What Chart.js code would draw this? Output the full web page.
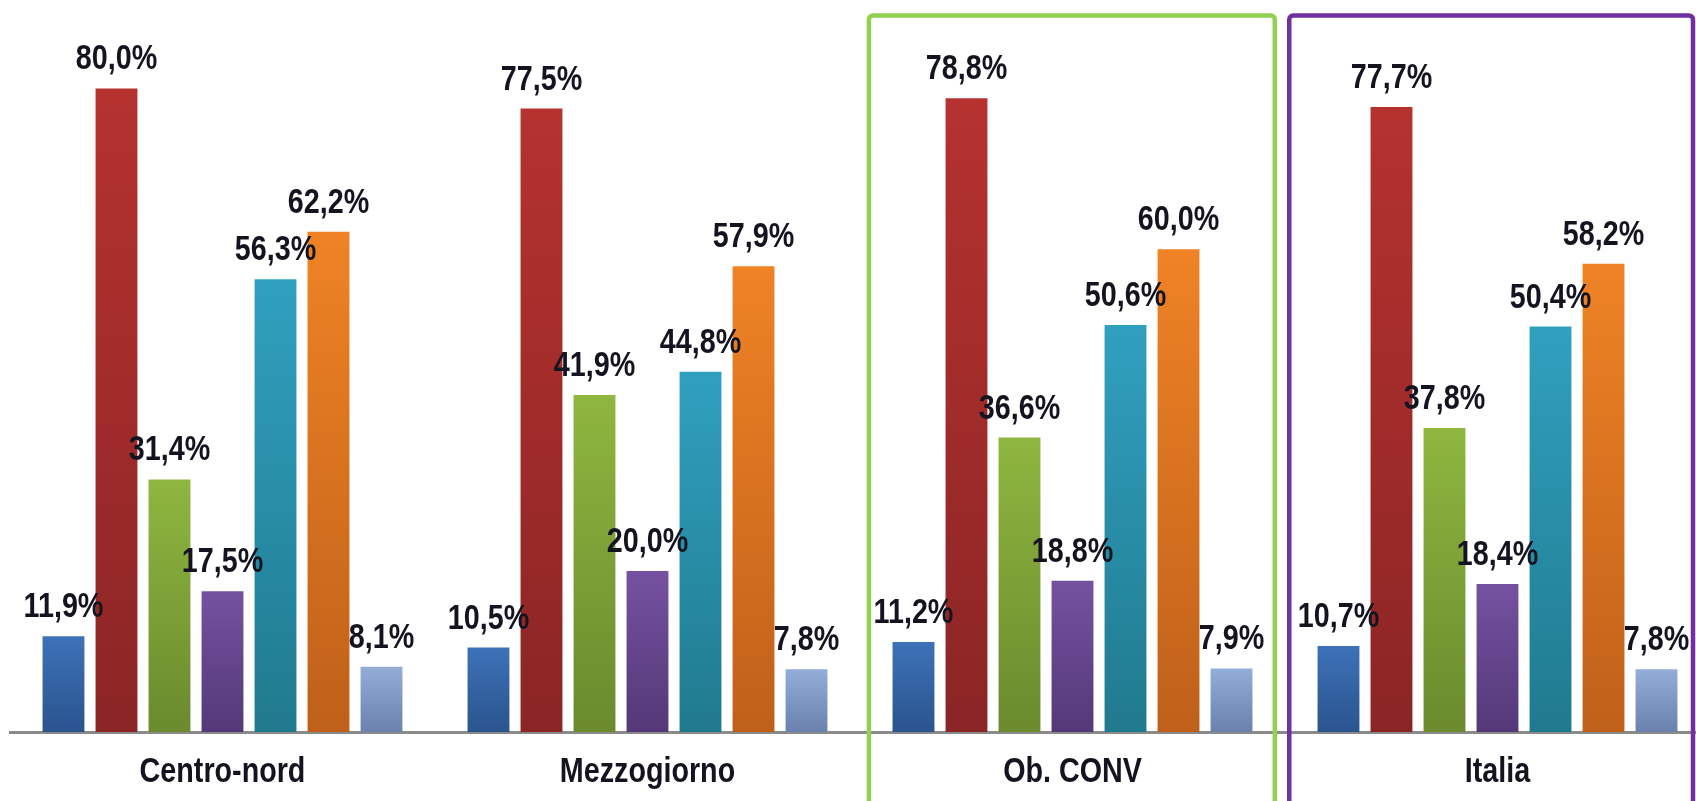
<!DOCTYPE html>
<html>
<head>
<meta charset="utf-8">
<script src="https://cdn.jsdelivr.net/npm/chart.js@4.4.1/dist/chart.umd.min.js"></script>
<style>
  html, body { margin: 0; padding: 0; background: #fff; overflow: hidden; }
  #wrap { position: relative; width: 1720px; height: 801px; }
</style>
</head>
<body>
<div id="wrap"><canvas id="chart"></canvas></div>
<script>
// categories and series values (percent)
var categories = ["Centro-nord", "Mezzogiorno", "Ob. CONV", "Italia"];
var serie1 = [11.9, 10.5, 11.2, 10.7];
var serie2 = [80.0, 77.5, 78.8, 77.7];
var serie3 = [31.4, 41.9, 36.6, 37.8];
var serie4 = [17.5, 20.0, 18.8, 18.4];
var serie5 = [56.3, 44.8, 50.6, 50.4];
var serie6 = [62.2, 57.9, 60.0, 58.2];
var serie7 = [8.1, 7.8, 7.9, 7.8];

// top / bottom colour of each bar gradient
var colors = [
    ["#3d72b8", "#2a548e"],
    ["#b5322f", "#8b2525"],
    ["#8fb63f", "#6a8a2d"],
    ["#7552a1", "#543878"],
    ["#30a0bf", "#207a8e"],
    ["#ef8325", "#bf601a"],
    ["#93add9", "#6a82ad"]
];

// no Arial Narrow installed: squeeze Liberation Sans horizontally instead
var FONT = "bold 35px 'Liberation Sans', Arial, sans-serif";
var SQUEEZE = 0.82;

function narrowText(ctx, txt, x, y) {
    ctx.save();
    ctx.translate(x, y);
    ctx.scale(SQUEEZE, 1);
    ctx.fillText(txt, 0, 0);
    ctx.restore();
}

function barGradient(i) {
    return function (context) {
        var chart = context.chart;
        var area = chart.chartArea;
        if (!area || context.raw === undefined) return colors[i][0];
        var yScale = chart.scales.y;
        var top = yScale.getPixelForValue(context.raw);
        var bottom = yScale.getPixelForValue(0);
        if (!isFinite(top) || top === bottom) return colors[i][0];
        var g = chart.ctx.createLinearGradient(0, top, 0, bottom);
        g.addColorStop(0, colors[i][0]);
        g.addColorStop(1, colors[i][1]);
        return g;
    };
}

var textPlugin = {
    id: "textPlugin",
    afterDatasetsDraw: function (chart) {
        var ctx = chart.ctx;
        ctx.save();
        ctx.font = FONT;
        ctx.fillStyle = "#141420";
        ctx.textAlign = "center";
        ctx.textBaseline = "alphabetic";
        // value labels over each bar
        chart.data.datasets.forEach(function (ds, di) {
            chart.getDatasetMeta(di).data.forEach(function (bar, j) {
                var txt = ds.data[j].toFixed(1).replace(".", ",") + "%";
                narrowText(ctx, txt, bar.x, bar.y - 19);
            });
        });
        // category labels under the axis
        var x = chart.scales.x;
        categories.forEach(function (c, i) {
            narrowText(ctx, c, x.getPixelForValue(i), chart.chartArea.bottom + 50);
        });
        ctx.restore();
    }
};

// coloured frames around "Ob. CONV" and "Italia"
var frames = [
    { index: 2, color: "#92d050", left: 0.479, right: 0.476 },
    { index: 3, color: "#7030a0", left: 0.490, right: 0.460 }
];

var framePlugin = {
    id: "framePlugin",
    afterDraw: function (chart) {
        var ctx = chart.ctx;
        var x = chart.scales.x;
        var w = x.width / categories.length;
        ctx.save();
        ctx.lineWidth = 4.5;
        frames.forEach(function (f) {
            var c = x.getPixelForValue(f.index);
            var l = c - f.left * w;
            var r = c + f.right * w;
            var t = 15.5;
            var b = chart.height + 20;
            ctx.strokeStyle = f.color;
            ctx.beginPath();
            ctx.roundRect(l, t, r - l, b - t, 4);
            ctx.stroke();
        });
        ctx.restore();
    }
};

var ctx = document.getElementById("chart");
new Chart(ctx, {
    type: "bar",
    data: {
        labels: categories,
        datasets: [serie1, serie2, serie3, serie4, serie5, serie6, serie7].map(function (d, i) {
            return {
                label: "Serie " + (i + 1),
                data: d,
                backgroundColor: barGradient(i),
                borderWidth: 0,
                categoryPercentage: 0.873,
                barPercentage: 0.79
            };
        })
    },
    options: {
        responsive: true,
        maintainAspectRatio: false,
        animation: false,
        layout: { padding: { left: 10, right: 10, top: 0, bottom: 0 } },
        plugins: {
            legend: { display: false },
            tooltip: { enabled: false }
        },
        scales: {
            x: {
                grid: { display: false, drawTicks: false },
                border: { display: true, color: "#8a8a8a", width: 3 },
                ticks: { display: false },
                afterFit: function (scale) { scale.height = 69; }
            },
            y: {
                display: false,
                min: 0,
                max: 91
            }
        }
    },
    plugins: [textPlugin, framePlugin]
});
</script>
</body>
</html>
